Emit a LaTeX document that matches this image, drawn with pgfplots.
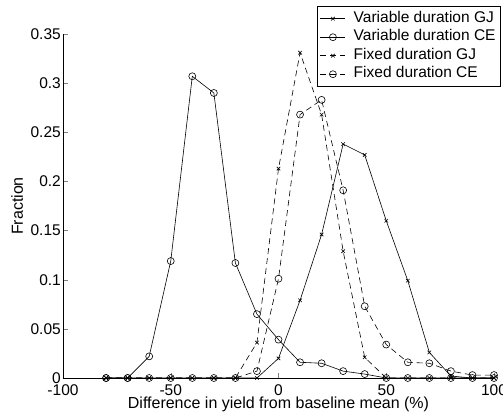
\documentclass[border=0pt]{standalone}
\usepackage{fontspec}
\setmainfont{Liberation Sans}
\usepackage{pgfplots}
\pgfplotsset{compat=1.18}

\begin{document}
\begin{tikzpicture}
\begin{axis}[
    scale only axis,
    width=431pt, height=344pt,
    xmin=-100, xmax=100, ymin=0, ymax=0.35,
    axis lines*=left,
    tick align=inside,
    major tick length=5pt,
    xtick={-100,-50,0,50,100},
    ytick={0,0.05,0.1,0.15,0.2,0.25,0.3,0.35},
    yticklabels={0,0.05,0.1,0.15,0.2,0.25,0.3,0.35},
    /pgf/number format/assume math mode=true,
    ticklabel style={font=\fontsize{15.5}{18}\selectfont},
    label style={font=\fontsize{16}{18}\selectfont},
    xticklabel style={inner sep=1pt, yshift=-5pt},
    yticklabel style={inner sep=2pt},
    xlabel={Difference in yield from baseline mean (\%)},
    ylabel={Fraction},
    xlabel style={inner sep=1pt, yshift=0pt},
    ylabel style={yshift=2pt},
    every axis plot/.append style={black, line width=0.6pt},
    legend image code/.code={\draw[mark repeat=2,mark phase=2,#1] plot coordinates {(0pt,0pt)(12.5pt,0pt)(25pt,0pt)};},
    legend style={at={(1.016,1.081)}, anchor=north east, draw=black, line width=0.6pt,
        font=\fontsize{15.5}{18}\selectfont, inner sep=3pt,
        nodes={text height=11pt, text depth=3.5pt, inner sep=2pt},
        /tikz/every odd column/.style={column sep=6pt},
        legend cell align=left},
    axis line style={line width=0.6pt},
]
% Variable duration GJ
\addplot[mark=x, mark size=2.5pt, mark options={solid}] coordinates {
    (-80,0) (-70,0) (-60,0) (-50,0) (-40,0) (-30,0) (-20,0) (-10,0)
    (0,0.020) (10,0.079) (20,0.146) (30,0.238) (40,0.227) (50,0.160)
    (60,0.099) (70,0.026) (80,0.002) (90,0) (100,0)
};
% Variable duration CE
\addplot[mark=o, mark size=3.5pt, mark options={solid}] coordinates {
    (-80,0) (-70,0) (-60,0.022) (-50,0.119) (-40,0.307) (-30,0.290) (-20,0.117)
    (-10,0.065) (0,0.039) (10,0.016) (20,0.015) (30,0.007) (40,0.004)
    (50,0) (60,0) (70,0) (80,0) (90,0) (100,0)
};
% Fixed duration GJ
\addplot[dash pattern=on 6pt off 4pt, mark=x, mark size=2.5pt, mark options={solid}] coordinates {
    (-80,0) (-70,0) (-60,0) (-50,0) (-40,0) (-30,0) (-20,0)
    (-10,0.036) (0,0.213) (10,0.331) (20,0.268) (30,0.129) (40,0.021)
    (50,0) (60,0) (70,0) (80,0) (90,0) (100,0)
};
% Fixed duration CE
\addplot[dash pattern=on 6pt off 4pt, mark=o, mark size=3.5pt, mark options={solid}] coordinates {
    (-80,0) (-70,0) (-60,0) (-50,0) (-40,0) (-30,0) (-20,0)
    (-10,0.007) (0,0.101) (10,0.268) (20,0.283) (30,0.191) (40,0.073)
    (50,0.034) (60,0.016) (70,0.015) (80,0.007) (90,0.003) (100,0.003)
};
\legend{Variable duration GJ, Variable duration CE, Fixed duration GJ, Fixed duration CE}
\end{axis}
\pgfresetboundingbox
\path[use as bounding box] (current axis.south west) ++(-63pt,-38pt) rectangle ++(503pt,416pt);
\end{tikzpicture}
\end{document}
